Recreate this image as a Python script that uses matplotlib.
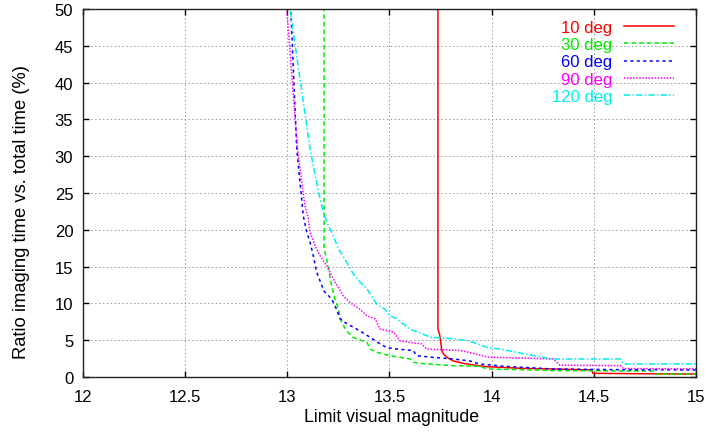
import matplotlib
matplotlib.use("Agg")
import matplotlib.pyplot as plt

plt.rcParams['font.family'] = ['Liberation Sans', 'DejaVu Sans']

labels = ["10 deg", "30 deg", "60 deg", "90 deg", "120 deg"]
colors = ["#ff0000", "#00ee00", "#0000ff", "#ff00ff", "#00eeee"]

mag_10 = [13.737, 13.737, 13.745, 13.752, 13.756, 13.765, 13.78, 13.81, 13.86, 13.92,
          13.975, 14.06, 14.14, 14.30, 14.49, 14.495, 14.70, 15.0]
val_10 = [55, 6.5, 5.8, 4.5, 3.6, 3.1, 2.7, 2.2, 1.86, 1.6,
          1.4, 1.3, 1.18, 1.09, 0.95, 0.5, 0.45, 0.4]

mag_30 = [13.18, 13.18, 13.20, 13.21, 13.225, 13.233, 13.25, 13.266, 13.29, 13.32,
          13.39, 13.405, 13.44, 13.50, 13.60, 13.617, 13.65, 13.73, 13.81, 13.94,
          13.98, 14.14, 14.30, 14.50, 14.79, 14.795, 15.0]
val_30 = [55, 17.4, 15.1, 13.3, 11.5, 10.6, 9.2, 7.4, 6.3, 5.4,
          4.7, 3.8, 3.35, 2.9, 2.45, 2.0, 1.86, 1.7, 1.54, 1.45,
          1.09, 1.0, 0.86, 0.85, 0.8, 0.4, 0.4]

mag_60 = [13.01, 13.017, 13.046, 13.062, 13.07, 13.078, 13.095, 13.111, 13.127, 13.144,
          13.168, 13.176, 13.185, 13.217, 13.241, 13.258, 13.282, 13.34, 13.405, 13.454,
          13.486, 13.535, 13.616, 13.633, 13.70, 13.81, 13.89, 13.94, 14.06, 14.30,
          14.60, 15.0]
val_60 = [55, 50, 31, 26.4, 24.2, 21.9, 19.7, 18.3, 16.5, 14.2,
          12.5, 11.8, 11.5, 10.6, 9.2, 7.9, 7.4, 6.5, 5.4, 4.5,
          4.0, 3.8, 3.6, 2.9, 2.7, 2.45, 2.2, 1.77, 1.45, 1.09,
          1.0, 0.95]

mag_90 = [12.99, 12.997, 13.05, 13.07, 13.086, 13.103, 13.111, 13.136, 13.16, 13.193,
          13.233, 13.25, 13.274, 13.307, 13.356, 13.389, 13.43, 13.454, 13.519, 13.552,
          13.63, 13.657, 13.682, 13.845, 13.89, 13.98, 14.30, 14.335, 14.63, 14.645,
          15.0]
val_90 = [55, 50, 31, 26.5, 23.3, 21.5, 19.7, 17.8, 16.5, 15.1,
          12.9, 12.2, 11.0, 10.1, 9.2, 8.3, 7.9, 6.5, 6.1, 4.9,
          4.6, 4.5, 3.8, 3.6, 3.35, 2.7, 2.45, 1.6, 1.54, 1.15,
          1.1]

mag_120 = [13.005, 13.013, 13.111, 13.127, 13.144, 13.16, 13.176, 13.193, 13.217, 13.25,
           13.29, 13.323, 13.356, 13.389, 13.421, 13.438, 13.478, 13.503, 13.535, 13.568,
           13.60, 13.666, 13.70, 13.81, 13.89, 13.98, 14.04, 14.17, 14.29, 14.63,
           14.645, 15.0]
val_120 = [55, 50, 31, 28.7, 26.4, 24.2, 22.4, 21.0, 19.7, 17.4,
           15.6, 14.0, 12.9, 12.0, 10.6, 9.9, 9.2, 8.3, 7.9, 7.2,
           6.5, 5.8, 5.4, 5.2, 4.9, 4.0, 3.8, 3.1, 2.45, 2.45,
           1.77, 1.8]

xticks = [12, 12.5, 13, 13.5, 14, 14.5, 15]
xtick_labels = ["12", "12.5", "13", "13.5", "14", "14.5", "15"]
yticks = [0, 5, 10, 15, 20, 25, 30, 35, 40, 45, 50]

series = [(mag_10, val_10), (mag_30, val_30), (mag_60, val_60),
          (mag_90, val_90), (mag_120, val_120)]
styles = ['-', (0, (3, 2)), (0, (2, 2.2)), (0, (1, 1)), (0, (4, 1.5, 1, 1.5))]

FS = 12

fig = plt.figure(figsize=(7.07, 4.35), dpi=100)
ax = fig.add_axes([83 / 707, 57 / 435, 613 / 707, 368 / 435])

for (m, v), lab, c, ls in zip(series, labels, colors, styles):
    ax.plot(m, v, color=c, linestyle=ls, linewidth=1.1, label=lab)

ax.set_xlim(12, 15)
ax.set_ylim(0, 50)
ax.set_xticks(xticks)
ax.set_xticklabels(xtick_labels)
ax.set_yticks(yticks)
ax.grid(True, color='#999999', linestyle=(0, (1.5, 2.5)), linewidth=0.7)
ax.tick_params(direction='in', length=4.5, width=1.0, top=True, right=True,
               labelsize=FS, colors='black')
ax.tick_params(axis='x', pad=8.5)
ax.tick_params(axis='y', pad=7)
for s in ax.spines.values():
    s.set_linewidth(1.0)
    s.set_color('#222222')

ax.set_xlabel("Limit visual magnitude", fontsize=12.8)
ax.set_ylabel("Ratio imaging time vs. total time (%)", fontsize=13.2)
ax.xaxis.set_label_coords(0.5036, -0.084)
ax.yaxis.set_label_coords(-0.086, 0.452)

leg = ax.legend(loc='upper right', bbox_to_anchor=(0.964, 0.971), frameon=False,
                markerfirst=False, labelcolor='linecolor', fontsize=FS,
                handlelength=3.0, handletextpad=0.7, labelspacing=0.14,
                borderpad=0, borderaxespad=0)

fig.savefig("out.png", dpi=100)
